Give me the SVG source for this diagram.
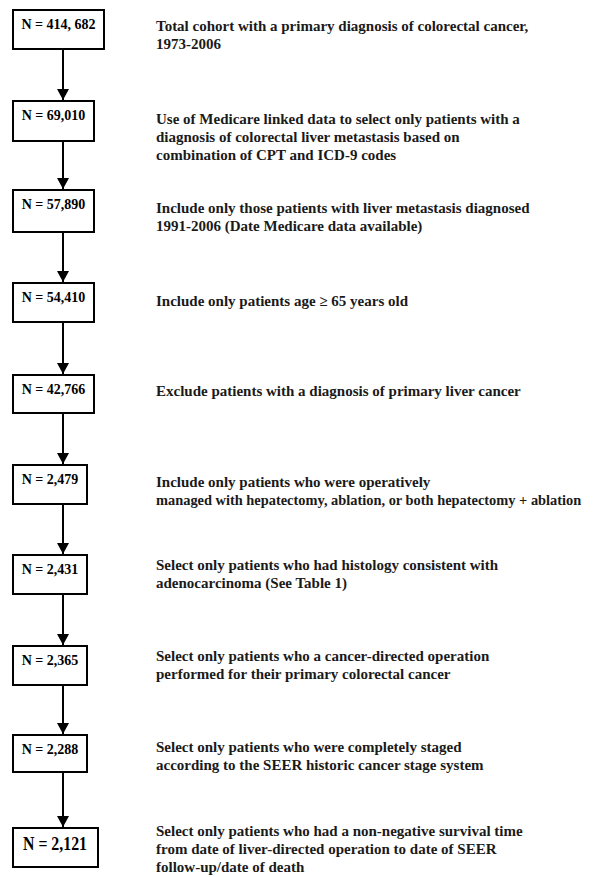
<svg xmlns="http://www.w3.org/2000/svg" width="596" height="877" viewBox="0 0 596 877">
<defs>
<style>
.box{fill:#fff;stroke:#000;stroke-width:2}
.n{font-family:"Liberation Serif","Times New Roman",serif;font-size:14px;font-weight:bold;fill:#000;text-anchor:middle}
.nb{font-size:18px}
.d{font-family:"Liberation Serif","Times New Roman",serif;font-size:15px;font-weight:bold;fill:#1a1a1a}
.c{stroke:#000;stroke-width:2;fill:none}
</style>
<marker id="ah" markerWidth="11" markerHeight="12" refX="11" refY="6" orient="auto" markerUnits="userSpaceOnUse">
<path d="M0,0 L11,6 L0,12 Z" fill="#000"/>
</marker>
</defs>
<rect width="596" height="877" fill="#fff"/>
<g id="connectors">
<line class="c" x1="63" y1="49" x2="63" y2="100" marker-end="url(#ah)"/>
<line class="c" x1="63" y1="141" x2="63" y2="189" marker-end="url(#ah)"/>
<line class="c" x1="63" y1="232" x2="63" y2="282" marker-end="url(#ah)"/>
<line class="c" x1="63" y1="322" x2="63" y2="374" marker-end="url(#ah)"/>
<line class="c" x1="63" y1="413" x2="63" y2="464" marker-end="url(#ah)"/>
<line class="c" x1="63" y1="504" x2="63" y2="554" marker-end="url(#ah)"/>
<line class="c" x1="63" y1="594" x2="63" y2="645" marker-end="url(#ah)"/>
<line class="c" x1="63" y1="685" x2="63" y2="734" marker-end="url(#ah)"/>
<line class="c" x1="63" y1="772" x2="63" y2="827" marker-end="url(#ah)"/>
</g>
<g id="n1"><rect class="box" x="13" y="10" width="91" height="39"/><text class="n" x="58.5" y="29">N = 414, 682</text>
<text class="d" x="156" y="31">Total cohort with a primary diagnosis of colorectal cancer,</text><text class="d" x="156" y="49">1973-2006</text></g>
<g id="n2"><rect class="box" x="13" y="101" width="81" height="40"/><text class="n" x="53.5" y="120">N = 69,010</text>
<text class="d" x="156" y="124">Use of Medicare linked data to select only patients with a</text><text class="d" x="156" y="142">diagnosis of colorectal liver metastasis based on</text><text class="d" x="156" y="160">combination of CPT and ICD-9 codes</text></g>
<g id="n3"><rect class="box" x="13" y="190" width="81" height="42"/><text class="n" x="53.5" y="209">N = 57,890</text>
<text class="d" x="156" y="213">Include only those patients with liver metastasis diagnosed</text><text class="d" x="156" y="231">1991-2006 (Date Medicare data available)</text></g>
<g id="n4"><rect class="box" x="13" y="283" width="81" height="39"/><text class="n" x="53.5" y="302">N = 54,410</text>
<text class="d" x="156" y="306">Include only patients age ≥ 65 years old</text></g>
<g id="n5"><rect class="box" x="13" y="375" width="81" height="38"/><text class="n" x="53.5" y="394">N = 42,766</text>
<text class="d" x="156" y="396">Exclude patients with a diagnosis of primary liver cancer</text></g>
<g id="n6"><rect class="box" x="13" y="465" width="74" height="39"/><text class="n" x="50" y="484">N = 2,479</text>
<text class="d" x="156" y="487">Include only patients who were operatively</text><text class="d" x="156" y="505" style="font-size:14.4px">managed with hepatectomy, ablation, or both hepatectomy + ablation</text></g>
<g id="n7"><rect class="box" x="13" y="555" width="74" height="39"/><text class="n" x="50" y="574">N = 2,431</text>
<text class="d" x="156" y="570">Select only patients who had histology consistent with</text><text class="d" x="156" y="588">adenocarcinoma (See Table 1)</text></g>
<g id="n8"><rect class="box" x="13" y="646" width="74" height="39"/><text class="n" x="50" y="665">N = 2,365</text>
<text class="d" x="156" y="661">Select only patients who a cancer-directed operation</text><text class="d" x="156" y="679">performed for their primary colorectal cancer</text></g>
<g id="n9"><rect class="box" x="13" y="735" width="74" height="37"/><text class="n" x="50" y="754">N = 2,288</text>
<text class="d" x="156" y="752">Select only patients who were completely staged</text><text class="d" x="156" y="770">according to the SEER historic cancer stage system</text></g>
<g id="n10"><rect class="box" x="13" y="828" width="85" height="39"/><text class="n nb" x="55" y="850" textLength="64" lengthAdjust="spacingAndGlyphs">N = 2,121</text>
<text class="d" x="156" y="836">Select only patients who had a non-negative survival time</text><text class="d" x="156" y="854">from date of liver-directed operation to date of SEER</text><text class="d" x="156" y="872">follow-up/date of death</text></g>
</svg>
